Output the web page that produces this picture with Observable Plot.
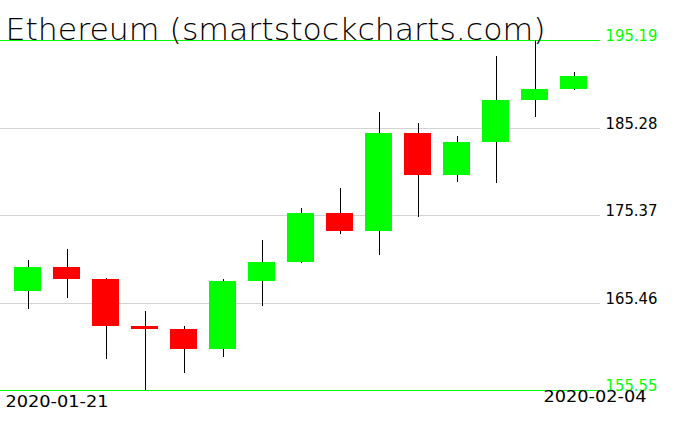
<!DOCTYPE html>
<html>
<head>
<meta charset="utf-8">
<script src="https://cdn.jsdelivr.net/npm/d3@7"></script>
<script src="https://cdn.jsdelivr.net/npm/@observablehq/plot@0.6"></script>
<style>
  html, body { margin: 0; padding: 0; background: #fff; }
  svg text { font-family: "DejaVu Sans", sans-serif; }
</style>
</head>
<body>
<div id="chart"></div>
<script>
const title = "Ethereum (smartstockcharts.com)";
const dates = ["2020-01-21","2020-01-22","2020-01-23","2020-01-24","2020-01-25","2020-01-26","2020-01-27","2020-01-28","2020-01-29","2020-01-30","2020-01-31","2020-02-01","2020-02-02","2020-02-03","2020-02-04"];
const open  = [166.79, 169.51, 168.10, 162.80, 162.49, 160.23, 167.87, 170.02, 175.63, 173.59, 184.69, 179.87, 183.62, 188.43, 189.67];
const high  = [170.31, 171.55, 168.27, 164.53, 162.83, 168.15, 172.57, 176.20, 178.46, 187.07, 185.82, 184.35, 193.41, 195.19, 191.60];
const low   = [164.76, 166.00, 159.09, 155.55, 157.51, 159.32, 165.10, 169.95, 173.25, 170.87, 175.18, 179.14, 179.03, 186.50, 189.56];
const close = [169.51, 168.10, 162.80, 162.49, 160.23, 167.87, 170.02, 175.63, 173.59, 184.69, 179.87, 183.62, 188.43, 189.67, 191.15];
const yTicks = [195.19, 185.28, 175.37, 165.46, 155.55];
const xLabels = ["2020-01-21", "2020-02-04"];

const data = dates.map((d, i) => ({date: d, open: open[i], high: high[i], low: low[i], close: close[i]}));
const yMin = d3.min(yTicks), yMax = d3.max(yTicks);
const edge = v => v === yMin || v === yMax;

const chart = Plot.plot({
  width: 676,
  height: 431,
  marginTop: 40,
  marginBottom: 41,
  marginLeft: 0,
  marginRight: 76,
  style: {background: "#fff", overflow: "visible"},
  x: {type: "band", domain: dates, range: [7, 594], paddingInner: 0.32, paddingOuter: 0.16, axis: null},
  y: {domain: [yMin, yMax], axis: null},
  color: {type: "identity"},
  marks: [
    Plot.ruleY(yTicks, {y: d => d, stroke: d => edge(d) ? "#00ff00" : "#d3d3d3", strokeWidth: 1, shapeRendering: "crispEdges"}),
    Plot.ruleX(data, {x: "date", y1: "low", y2: "high", stroke: "#000", strokeWidth: 1, shapeRendering: "crispEdges"}),
    Plot.barY(data, {x: "date", y1: "open", y2: "close", fill: d => d.close >= d.open ? "#00ff00" : "#ff0000", inset: 0, shapeRendering: "crispEdges"}),
    Plot.text(yTicks, {y: d => d, text: d => d.toFixed(2), frameAnchor: "right", textAnchor: "start", lineAnchor: "bottom", dx: 5, dy: 0.5, fontSize: 15, fill: d => edge(d) ? "#00ff00" : "#000"}),
    Plot.text([xLabels[0]], {text: d => d, frameAnchor: "bottom-left", textAnchor: "start", lineAnchor: "bottom", dx: 5, dy: 16, fontSize: 16, fill: "#000"}),
    Plot.text([xLabels[1]], {text: d => d, frameAnchor: "bottom-right", textAnchor: "end", lineAnchor: "bottom", dx: 46, dy: 11, fontSize: 16, fill: "#000"}),
    Plot.text([title], {text: d => d, frameAnchor: "top-left", textAnchor: "start", lineAnchor: "bottom", dx: 5, dy: -1, fontSize: 30, fill: "#000"})
  ]
});

document.getElementById("chart").appendChild(chart);

d3.select(chart).selectAll("text").each(function() {
  const t = this.textContent;
  const s = d3.select(this);
  if (t === title) s.style("font-weight", "200").attr("textLength", 540).attr("lengthAdjust", "spacingAndGlyphs");
  else if (/^\d{4}-\d\d-\d\d$/.test(t)) s.style("font-weight", "400").attr("textLength", 103).attr("lengthAdjust", "spacingAndGlyphs");
  else if (/^\d+\.\d\d$/.test(t)) s.style("font-weight", "400").attr("textLength", 52).attr("lengthAdjust", "spacingAndGlyphs");
});
</script>
</body>
</html>
